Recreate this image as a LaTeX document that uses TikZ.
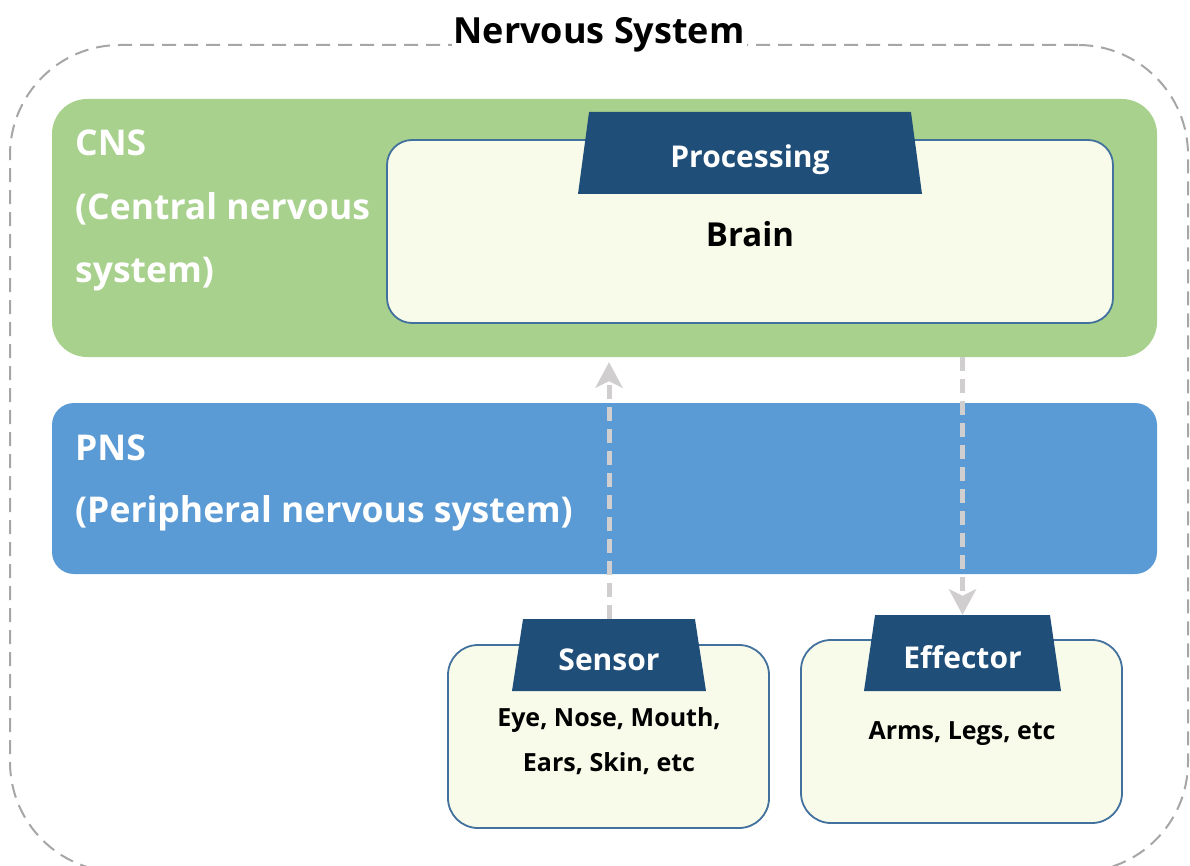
\documentclass[tikz,border=0pt]{standalone}
\usepackage{fontspec}
\setmainfont{Open Sans}
\usepackage{xcolor}
\usetikzlibrary{shapes.geometric,arrows.meta}

\definecolor{cnsgreen}{HTML}{A9D18E}
\definecolor{pnsblue}{HTML}{5B9BD5}
\definecolor{tabblue}{HTML}{1F4E79}
\definecolor{boxfill}{HTML}{F8FBEA}
\definecolor{boxline}{HTML}{41719C}
\definecolor{flowgray}{HTML}{D0CECE}
\definecolor{framegray}{HTML}{A6A6A6}

\begin{document}
\begin{tikzpicture}[x=1pt, y=-1pt,
    layer/.style={rectangle, rounded corners=#1, inner sep=0pt},
    organ/.style={rectangle, rounded corners=30, draw=boxline, line width=1.8, fill=boxfill, inner sep=0pt, minimum width=321, minimum height=183},
    tab/.style={trapezium, trapezium angle=76.5, trapezium stretches body, fill=tabblue, text=white, inner sep=0pt, text height=38pt, text depth=8pt, font=\fontsize{30}{36}\selectfont\bfseries},
    layertext/.style={text=white, inner sep=0pt, anchor=base west, font=\fontsize{35.5}{40}\selectfont\bfseries},
    parts/.style={align=center, inner sep=0pt, font=\fontsize{25}{45}\selectfont\bfseries},
    flow/.style={draw=flowgray, line width=5, dash pattern=on 14pt off 8pt, -{Stealth[length=26pt, width=28pt, inset=7pt, line width=0pt]}}]
    \useasboundingbox (0,0) rectangle (1190,866);
    \clip (0,0) rectangle (1190,866);

    \node[rectangle, rounded corners=110, draw=framegray, line width=2, dash pattern=on 14pt off 8pt, minimum width=1178, minimum height=827, inner sep=0pt] (system) at (599,458.5) {};
    \node[anchor=base, fill=white, inner sep=2pt, font=\fontsize{36}{40}\selectfont\bfseries] (title) at (system.north) {Nervous System};

    \node[layer=35, fill=cnsgreen, minimum width=1105, minimum height=258] (cns) at (604.5,228) {};
    \node[layertext] (cnsname) at (75,156) {CNS};
    \node[layertext] (cnsline1) at (75,220) {(Central nervous};
    \node[layertext] (cnsline2) at (75,283) {system)};

    \node[layer=25, draw=boxline, line width=1.8, fill=boxfill, minimum width=726, minimum height=183] (brain) at (750,231.5) {};
    \node[inner sep=0pt, font=\fontsize{33}{40}\selectfont\bfseries] (brainname) at (750,234) {Brain};
    \node[tab, minimum width=344, minimum height=82] (processing) at (750,153) {Processing};

    \node[layer=22, fill=pnsblue, minimum width=1105, minimum height=171] (pns) at (604.5,488.5) {};
    \node[layertext] (pnsname) at (75,460) {PNS};
    \node[layertext] (pnsline) at (75,522) {(Peripheral nervous system)};

    \node[organ] (sensorbox) at (608.5,736.5) {};
    \node[tab, minimum width=194, minimum height=72] (sensor) at (609,655) {Sensor};
    \node[parts] (sensorparts) at (609,741) {Eye, Nose, Mouth,\\Ears, Skin, etc};

    \node[organ] (effectorbox) at (961.5,731.5) {};
    \node[tab, minimum width=197, minimum height=76] (effector) at (962.5,653) {Effector};
    \node[parts] (effectorparts) at (962,734) {Arms, Legs, etc};

    \draw[flow, shorten >=5pt] (sensor.north) -- (sensor.north |- cns.south);
    \draw[flow] (effector.north |- cns.south) -- (effector.north);
\end{tikzpicture}
\end{document}
